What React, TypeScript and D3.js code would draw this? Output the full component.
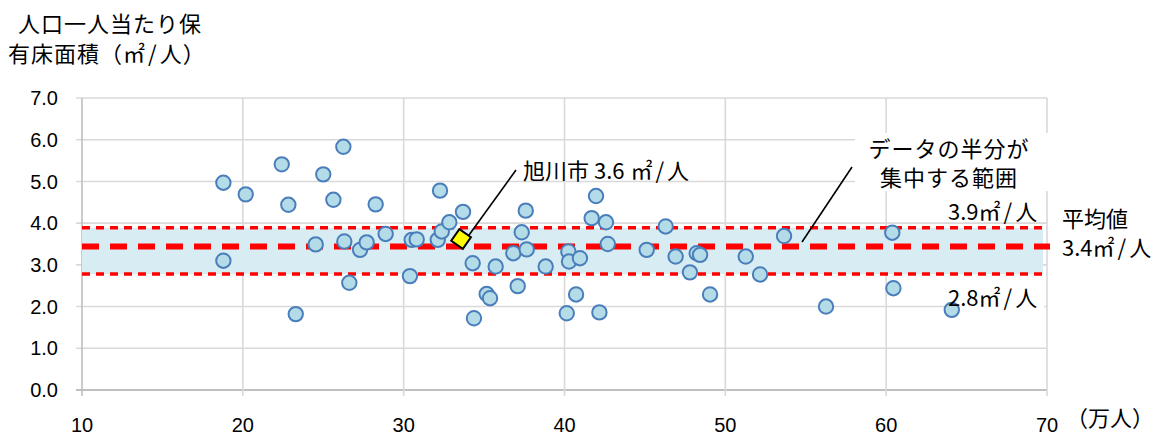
import React from "react";
import * as d3 from "d3";

// 人口（万人）
const population: number[] = [
  18.79, 18.79, 20.18, 22.42, 22.83, 23.29, 24.53, 25.0, 25.63, 26.25,
  26.31, 26.62, 27.29, 27.7, 28.26, 28.88, 30.39, 30.5, 30.81, 32.26,
  32.12, 32.37, 32.84, 33.69, 34.29, 34.37, 35.16, 35.37, 35.72, 36.82,
  37.09, 37.34, 37.59, 37.65, 38.83, 40.14, 40.24, 40.28, 40.72, 40.96,
  41.69, 41.96, 42.17, 42.58, 42.69, 45.11, 46.29, 46.91, 47.8, 48.22,
  48.43, 49.05, 51.27, 52.16, 53.65, 56.26, 60.38, 60.45, 64.08,
];
// 人口一人当たり保有床面積（㎡/人）
const floorArea: number[] = [
  4.97, 3.1, 4.69, 5.41, 4.44, 1.82, 3.49, 5.17, 4.56, 5.83,
  3.56, 2.57, 3.36, 3.54, 4.45, 3.74, 2.73, 3.6, 3.61, 4.78,
  3.6, 3.8, 4.02, 4.27, 3.04, 1.72, 2.3, 2.2, 2.96, 3.28,
  2.49, 3.78, 4.3, 3.37, 2.96, 1.84, 3.32, 3.08, 2.29, 3.16,
  4.12, 4.65, 1.86, 4.02, 3.5, 3.36, 3.92, 3.2, 2.82, 3.28,
  3.24, 2.29, 3.2, 2.77, 3.69, 2.0, 3.77, 2.44, 1.92,
];
const asahikawa = { pop: 33.57, area: 3.62, name: "旭川市 3.6" };
const meanValue = 3.44;
const q1Value = 2.78;
const q3Value = 3.89;
const xTicks = [10, 20, 30, 40, 50, 60, 70];
const yTicks = [0, 1, 2, 3, 4, 5, 6, 7];

const W = 1155;
const H = 436;
const left = 82;
const right = 1047;
const top = 98;
const bottom = 390;

function PerPerson({ x, y, prefix, gap }: { x: number; y: number; prefix: string; gap?: number }) {
  return (
    <text x={x} y={y}>
      {prefix}
      <tspan dx={gap ?? 0}>㎡</tspan>
      <tspan dx={3}>/</tspan>
      <tspan dx={3}>人</tspan>
    </text>
  );
}

export default function App() {
  const x = d3.scaleLinear().domain([10, 70]).range([left, right]);
  const y = d3.scaleLinear().domain([0, 7]).range([bottom, top]);
  const jp = "'Noto Sans CJK JP', 'Noto Sans', sans-serif";
  const num = "'Liberation Sans', Arial, sans-serif";
  const grid = "#d9d9d9";
  const dx = x(asahikawa.pop);
  const dy = y(asahikawa.area);
  const dr = 10;

  return (
    <svg
      width={W}
      height={H}
      style={{ position: "absolute", left: 0, top: 0, display: "block", background: "#fff" }}
    >
      {/* grid */}
      {yTicks.map((t) => (
        <line key={"gy" + t} x1={left - 6} x2={right} y1={y(t)} y2={y(t)} stroke={t === 0 ? "#bfbfbf" : grid} strokeWidth={t === 0 ? 2 : 1.6} />
      ))}
      {xTicks.map((t) => (
        <line key={"gx" + t} x1={x(t)} x2={x(t)} y1={top} y2={bottom + 6} stroke={t === 10 ? "#bfbfbf" : grid} strokeWidth={1.6} />
      ))}

      {/* white boxes behind annotations */}
      <rect x={855} y={133} width={195} height={58} fill="#fff" />
      <rect x={958} y={287} width={86} height={24} fill="#fff" />

      {/* interquartile band */}
      <rect x={left} y={y(q3Value)} width={x(69.75) - left} height={y(q1Value) - y(q3Value)} fill="#d8edf3" />
      <line x1={left} x2={right} y1={y(q3Value)} y2={y(q3Value)} stroke="#ff0000" strokeWidth={3.5} strokeDasharray="8,6" />
      <line x1={left} x2={right} y1={y(q1Value)} y2={y(q1Value)} stroke="#ff0000" strokeWidth={3.5} strokeDasharray="8,6" />
      <line x1={left} x2={right + 3} y1={y(meanValue)} y2={y(meanValue)} stroke="#ff0000" strokeWidth={6} strokeDasharray="17,11" />

      {/* points */}
      {population.map((p, i) => (
        <circle key={"p" + i} cx={x(p)} cy={y(floorArea[i])} r={7.2} fill="#b4dbe8" stroke="#4a7ebb" strokeWidth={2} />
      ))}

      {/* leader lines */}
      <line x1={dx} x2={516} y1={dy + 7} y2={170} stroke="#000" strokeWidth={1.6} />
      <line x1={802} x2={852} y1={242} y2={167} stroke="#000" strokeWidth={1.6} />

      {/* Asahikawa diamond */}
      <polygon
        points={`${dx},${dy - dr} ${dx + dr},${dy} ${dx},${dy + dr} ${dx - dr},${dy}`}
        fill="#ffff00"
        stroke="#000"
        strokeWidth={2}
        transform={`rotate(-10 ${dx} ${dy})`}
      />

      {/* tick labels */}
      {yTicks.map((t) => (
        <text key={"ty" + t} x={58} y={y(t)} dy="0.36em" textAnchor="end" fontFamily={num} fontSize={20} fill="#000">
          {t.toFixed(1)}
        </text>
      ))}
      {xTicks.map((t) => (
        <text key={"tx" + t} x={x(t)} y={432} textAnchor="middle" fontFamily={num} fontSize={20} fill="#000">
          {t}
        </text>
      ))}

      {/* titles */}
      <g fontFamily={jp} fontSize={22} fill="#000" letterSpacing={1}>
        <text x={18} y={32}>人口一人当たり保</text>
        <text x={8} y={62}>
          有床面積（㎡<tspan dx={2}>/</tspan>
          <tspan dx={2}>人</tspan>）
        </text>
      </g>
      <g fontFamily={jp} fontSize={22} fill="#000">
        <text x={1066} y={426}>（万人）</text>
        <PerPerson x={523} y={179} prefix={asahikawa.name} gap={6} />
      </g>
      <g fontFamily={jp} fontSize={22} fill="#000">
        <text x={949} y={157} textAnchor="middle" letterSpacing={1}>データの半分が</text>
        <text x={949} y={186} textAnchor="middle" letterSpacing={1}>集中する範囲</text>
        <PerPerson x={948} y={220} prefix="3.9" />
        <PerPerson x={948} y={306} prefix="2.8" />
        <text x={1062} y={227}>平均値</text>
        <PerPerson x={1062} y={256} prefix="3.4" />
      </g>
    </svg>
  );
}
